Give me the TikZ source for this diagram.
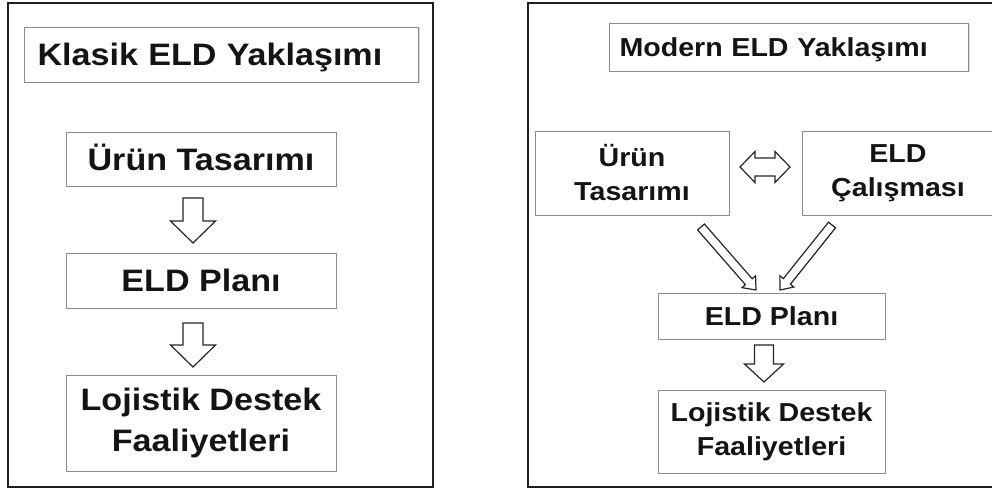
\documentclass[tikz,border=0pt]{standalone}
\usepackage{fontspec}
\setmainfont{Liberation Sans}[FakeStretch=1.1]
\usetikzlibrary{calc,shadows}

% hollow block arrow: #1 start, #2 tip, #3 half shaft width, #4 half head width, #5 head length
\newcommand\hollowarrow[5]{%
  \path ($(#2)!#5!(#1)$) coordinate (hb);
  \draw[blockarrow]
    ($(#1)!#3!90:(#2)$) -- ($(hb)!#3!-90:(#1)$) -- ($(hb)!#4!-90:(#1)$)
    -- (#2) -- ($(hb)!#4!90:(#1)$) -- ($(hb)!#3!90:(#1)$)
    -- ($(#1)!#3!-90:(#2)$) -- cycle;}

% hollow double-headed block arrow between two tips
\newcommand\hollowdoublearrow[5]{%
  \path ($(#1)!#5!(#2)$) coordinate (hba) ($(#2)!#5!(#1)$) coordinate (hbb);
  \draw[blockarrow]
    (#1) -- ($(hba)!#4!90:(#2)$) -- ($(hba)!#3!90:(#2)$)
    -- ($(hbb)!#3!-90:(#1)$) -- ($(hbb)!#4!-90:(#1)$) -- (#2)
    -- ($(hbb)!#4!90:(#1)$) -- ($(hbb)!#3!90:(#1)$)
    -- ($(hba)!#3!-90:(#2)$) -- ($(hba)!#4!-90:(#2)$) -- cycle;}

\tikzset{
  frame/.style={draw=black!88, line width=1.8pt},
  box/.style={draw=black!45, line width=1pt, fill=white, inner sep=0pt,
    align=center, text=black!92,
    drop shadow={shadow xshift=1.2pt, shadow yshift=-1.2pt, opacity=0.3}},
  bigtext/.style={font=\fontsize{31}{40.5}\selectfont\bfseries},
  smalltext/.style={font=\fontsize{26}{34}\selectfont\bfseries},
  blockarrow/.style={draw=black!85, line width=1.2pt, fill=white, line join=miter},
}

\begin{document}
\begin{tikzpicture}[x=1pt, y=-1pt]
\useasboundingbox (0,0) rectangle (992,488);
\clip (0,0) rectangle (992,488);

% ---- classic approach ----
\draw[frame] (8,3) rectangle (433,487);
\node[box, bigtext, anchor=west, minimum height=55pt, text width=368pt,
  align=left, inner xsep=13pt, text height=22pt, text depth=0pt]
  (lt) at (24,54.5) {Klasik ELD Yaklaşımı};
\node[box, bigtext, minimum width=270pt, minimum height=54pt,
  text height=22pt, text depth=0pt] (lu) at (201,159) {Ürün Tasarımı};
\node[box, bigtext, minimum width=270pt, minimum height=55pt,
  text height=22pt, text depth=0pt] (lp) at (201,280.5) {ELD Planı};
\node[box, bigtext, minimum width=270pt, minimum height=96pt]
  (ll) at (201,423) {Lojistik Destek\\Faaliyetleri};

\coordinate (la1s) at (193,198);
\coordinate (la1e) at (193,243);
\coordinate (la2s) at (193,323);
\coordinate (la2e) at (193,367);
\hollowarrow{la1s}{la1e}{10pt}{22.5pt}{22pt}
\hollowarrow{la2s}{la2e}{10pt}{22.5pt}{22pt}

% ---- modern approach ----
\draw[frame] (528,3) rectangle (1010,487);
\node[box, smalltext, anchor=west, minimum height=48pt, text width=339pt,
  align=left, inner xsep=10pt, text height=18.6pt, text depth=0pt]
  (rt) at (609,47) {Modern ELD Yaklaşımı};
\node[box, smalltext, minimum width=194pt, minimum height=84pt]
  (ru) at (632,173) {Ürün\\Tasarımı};
\node[box, smalltext, minimum width=192pt, minimum height=84pt]
  (rc) at (898,173) {ELD\\Çalışması};
\node[box, smalltext, minimum width=227pt, minimum height=46pt,
  text height=18.6pt, text depth=0pt] (rp) at (771.5,316) {ELD Planı};
\node[box, smalltext, minimum width=227pt, minimum height=83pt]
  (rl) at (771.5,431.5) {Lojistik Destek\\Faaliyetleri};

\coordinate (rda) at (740,167);
\coordinate (rdb) at (790,167);
\hollowdoublearrow{rda}{rdb}{9pt}{15.5pt}{15pt}

\coordinate (rus) at (701,227);
\coordinate (rue) at (756,290);
\coordinate (rcs) at (832,225);
\coordinate (rce) at (780,290);
\hollowarrow{rus}{rue}{4.5pt}{9pt}{11pt}
\hollowarrow{rcs}{rce}{4.5pt}{9pt}{11pt}

\coordinate (rps) at (764,345);
\coordinate (rpe) at (764,382);
\hollowarrow{rps}{rpe}{9.5pt}{19.5pt}{18pt}
\end{tikzpicture}
\end{document}
